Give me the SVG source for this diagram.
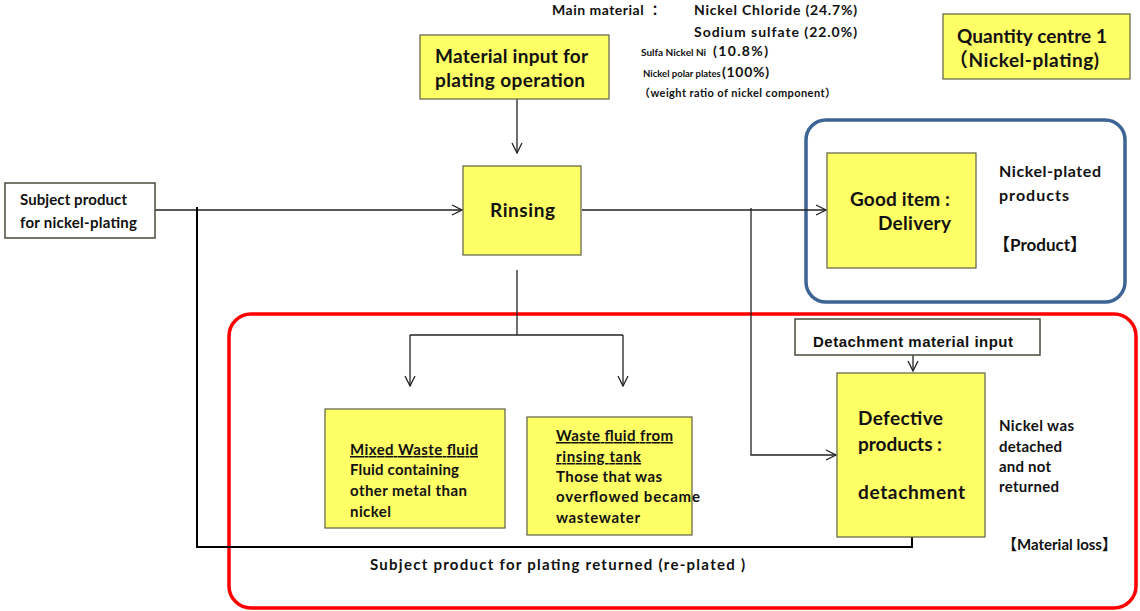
<svg xmlns="http://www.w3.org/2000/svg" width="1140" height="611" viewBox="0 0 1140 611">
  <style>
    .box { fill: #ffff66; stroke: #5f5f45; stroke-width: 1.2; }
    .wbox { fill: #ffffff; stroke: #4a4a3a; stroke-width: 1.5; }
    .line { fill: none; stroke: #222; stroke-width: 1.3; }
    .ret { fill: none; stroke: #000; stroke-width: 2; }
    .t { font-family: Lato, "Liberation Sans", "Noto Sans CJK JP", sans-serif; font-weight: bold; fill: #111; }
    .a { font-family: "Liberation Sans", Arial, sans-serif; font-weight: bold; fill: #111; }
    .f19 { font-size: 19px; }
    .f16 { font-size: 16px; }
    .f15 { font-size: 15px; }
    .f14 { font-size: 14px; }
    .f11 { font-size: 11px; }
    .f10 { font-size: 10px; }
    .u { text-decoration: underline; }
  </style>
  <defs>
    <marker id="open" viewBox="0 0 12 12" refX="11" refY="6" markerWidth="12" markerHeight="12" markerUnits="userSpaceOnUse" orient="auto">
      <path d="M1,1 L11,6 L1,11" fill="none" stroke="#222" stroke-width="1.3"/>
    </marker>
  </defs>

  <!-- grouping frames -->
  <rect id="frame-product" x="806" y="120" width="319" height="182" rx="20" fill="none" stroke="#3c6494" stroke-width="3.5"/>
  <rect id="frame-loss" x="229" y="314" width="907" height="294" rx="22" fill="none" stroke="#ff0000" stroke-width="3.5"/>

  <!-- connectors -->
  <g id="connectors">
    <path class="line" d="M155,210 H462" marker-end="url(#open)"/>
    <path class="line" d="M517,99 V153" marker-end="url(#open)"/>
    <path class="line" d="M582,210 H826" marker-end="url(#open)"/>
    <path class="line" d="M751,208 V455 H836" marker-end="url(#open)"/>
    <path class="line" d="M517,270 V335"/>
    <path class="line" d="M410,335 H623"/>
    <path class="line" d="M410,335 V386" marker-end="url(#open)"/>
    <path class="line" d="M623,335 V386" marker-end="url(#open)"/>
    <path class="line" d="M913,355 V371" marker-end="url(#open)"/>
    <path class="ret" d="M912,537 V547 H197 V207"/>
  </g>

  <!-- top material notes -->
  <g id="materials">
    <text class="t f14" x="552" y="15" textLength="110">Main material ：</text>
    <text class="t f14" x="694" y="15" textLength="163">Nickel Chloride (24.7%)</text>
    <text class="t f14" x="694" y="37" textLength="163">Sodium  sulfate (22.0%)</text>
    <text class="t f10" x="641" y="56">Sulfa Nickel Ni</text>
    <text class="t f14" x="713" y="56" textLength="55">(10.8%)</text>
    <text class="t" x="643" y="77" style="font-size:9.5px">Nickel polar plates</text>
    <text class="t f14" x="722" y="77" textLength="47">(100%)</text>
    <text class="t f11" x="639" y="97" textLength="197">（weight ratio of nickel  component）</text>
  </g>

  <g id="quantity-centre">
    <rect class="box" x="943" y="14" width="187" height="65"/>
    <text class="t f19" x="957" y="43" textLength="150">Quantity centre 1</text>
    <text class="t f19" x="949" y="67" textLength="150">（Nickel-plating)</text>
  </g>

  <g id="material-input">
    <rect class="box" x="420" y="35" width="189" height="64"/>
    <text class="t f19" x="435" y="63" textLength="153">Material input for</text>
    <text class="t f19" x="435" y="87" textLength="150">plating operation</text>
  </g>

  <g id="subject-product">
    <rect class="wbox" x="5" y="183" width="150" height="55"/>
    <text class="t f15" x="20" y="205" textLength="107">Subject product</text>
    <text class="t f15" x="20" y="228" textLength="117">for nickel-plating</text>
  </g>

  <g id="rinsing">
    <rect class="box" x="463" y="166" width="118" height="89"/>
    <text class="t f19" x="490" y="217" textLength="65">Rinsing</text>
  </g>

  <g id="good-item">
    <rect class="box" x="827" y="153" width="149" height="115"/>
    <text class="t f19" x="850" y="206" textLength="100">Good item :</text>
    <text class="t f19" x="878" y="230" textLength="73">Delivery</text>
    <text class="t f16" x="999" y="177" textLength="102">Nickel-plated</text>
    <text class="t f16" x="999" y="201" textLength="70">products</text>
    <text class="t" x="993" y="251" style="font-size:17px">【Product】</text>
  </g>

  <g id="mixed-waste">
    <rect class="box" x="325" y="409" width="180" height="119"/>
    <text class="t f15 u" x="350" y="455" textLength="128">Mixed Waste fluid</text>
    <text class="t f15" x="350" y="475" textLength="109">Fluid containing</text>
    <text class="t f15" x="350" y="496" textLength="117">other metal than</text>
    <text class="t f15" x="350" y="517" textLength="41">nickel</text>
  </g>

  <g id="rinsing-waste">
    <rect class="box" x="527" y="417" width="165" height="118"/>
    <text class="t f15 u" x="556" y="441" textLength="117">Waste fluid from</text>
    <text class="t f15 u" x="556" y="462" textLength="85">rinsing  tank</text>
    <text class="t f15" x="556" y="482" textLength="106">Those that was</text>
    <text class="t f15" x="556" y="502" textLength="144">overflowed  became</text>
    <text class="t f15" x="556" y="523" textLength="84">wastewater</text>
  </g>

  <g id="detachment-input">
    <rect class="wbox" x="795" y="319" width="245" height="36"/>
    <text class="a f15" x="813" y="347" textLength="200">Detachment material input</text>
  </g>

  <g id="defective">
    <rect class="box" x="837" y="373" width="148" height="164"/>
    <text class="t f19" x="858" y="425" textLength="85">Defective</text>
    <text class="t f19" x="858" y="451" textLength="84">products :</text>
    <text class="t f19" x="858" y="499" textLength="107">detachment</text>
    <text class="t f15" x="999" y="431" textLength="75">Nickel was</text>
    <text class="t f15" x="999" y="452" textLength="63">detached</text>
    <text class="t f15" x="999" y="472" textLength="52">and not</text>
    <text class="t f15" x="999" y="492" textLength="60">returned</text>
    <text class="t f15" x="1002" y="550">【Material loss】</text>
  </g>

  <text id="return-label" class="t f15" x="370" y="570" textLength="375">Subject product for plating returned (re-plated )</text>
</svg>
